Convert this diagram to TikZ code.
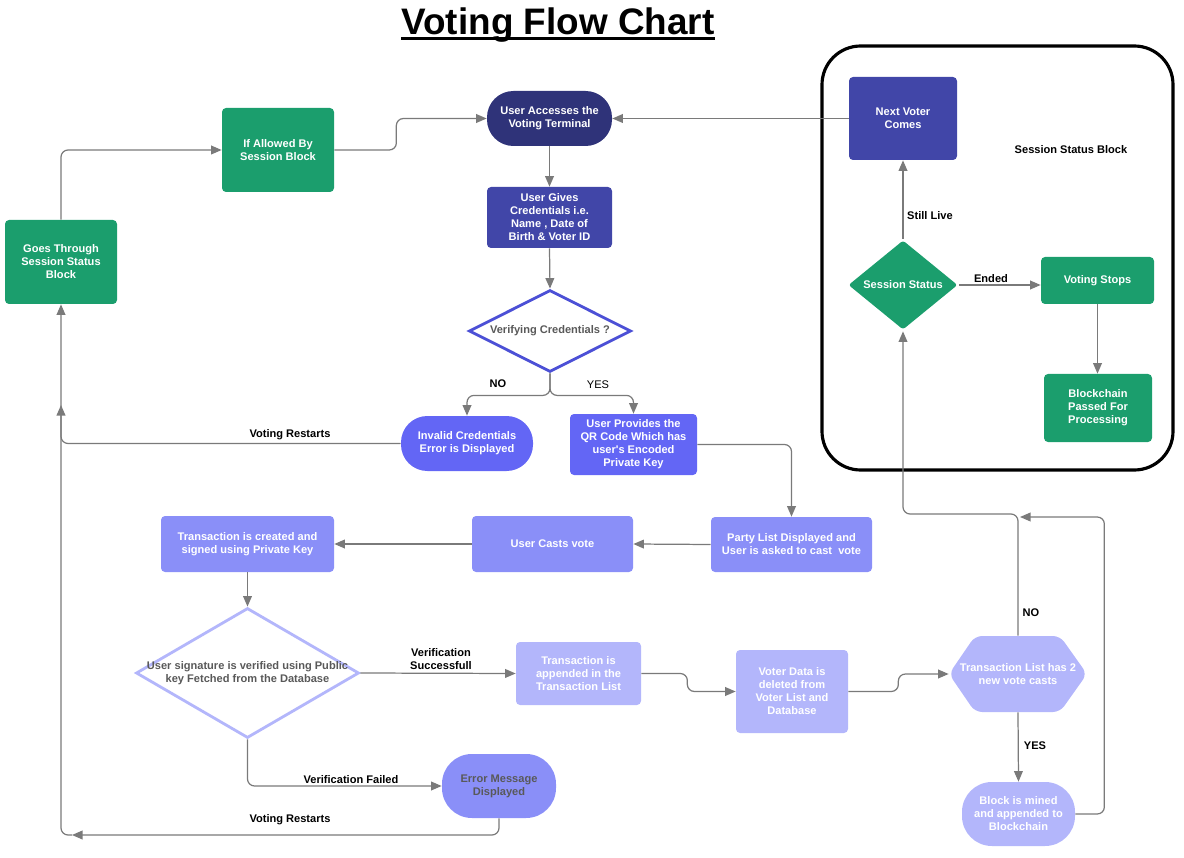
\documentclass[tikz,border=0pt]{standalone}
\usepackage{fontspec}
\setmainfont{Liberation Sans}
\usetikzlibrary{arrows.meta,shapes.geometric}
\definecolor{navy}{HTML}{2F3379}
\definecolor{indigo}{HTML}{4146A8}
\definecolor{vivid}{HTML}{6366F5}
\definecolor{peri}{HTML}{8A8FF8}
\definecolor{lav}{HTML}{B3B6FB}
\definecolor{edge}{HTML}{4C50D6}
\definecolor{green}{HTML}{1B9E6D}
\definecolor{linegray}{HTML}{7A7A7A}
\definecolor{txtgray}{HTML}{595959}
\begin{document}
\begin{tikzpicture}[x=0.02cm, y=-0.02cm]
		\tikzset{sz/.style 2 args = {minimum width=#1*0.02cm, minimum height=#2*0.02cm},
			box/.style = {rectangle, rounded corners=2.3pt, inner sep=1pt, align=center, text=white,
				font=\fontsize{6.3}{7.4}\selectfont\bfseries},
			pill/.style = {box, rounded corners=15pt},
			dia/.style = {diamond, inner sep=0pt, line width=1.6pt, fill=white},
			dtext/.style = {align=center, inner sep=0pt, text=txtgray, font=\fontsize{6.3}{7.4}\selectfont\bfseries},
			lbl/.style = {align=center, inner sep=0pt, font=\fontsize{6.3}{7.4}\selectfont\bfseries},
			conn/.style = {draw=linegray, line width=0.7pt, rounded corners=4pt,
				-{Triangle[length=6pt, width=5pt]}}}
		\useasboundingbox (0,0) rectangle (1184,858);
		% Title
		\node[inner sep=0pt, font=\fontsize{21}{25}\selectfont\bfseries] (title) at (558,25) {Voting Flow Chart};
		\draw[line width=1.6pt] ([yshift=-2.5pt]title.base west) -- ([yshift=-2.5pt]title.base east);
		% Session status block
		\node[draw, line width=1.8pt, rounded corners=22pt, sz={351}{424}] (sessframe) at (997.5,258) {};
		\node[lbl] (sessname) at (1071,150) {Session Status Block};
		\node[box, fill=indigo, sz={108}{83}] (nextvoter) at (903,118.5) {Next Voter\\Comes};
		\node[dia, fill=green, draw=none, rounded corners=1.5pt, sz={110}{90},
			label={[dtext, text=white]center:Session Status}] (sessstatus) at (903,285) {};
		\node[box, fill=green, sz={113}{47}] (votingstops) at (1097.5,280.5) {Voting Stops};
		\node[box, fill=green, sz={108}{68}] (blockchain) at (1098,408) {Blockchain\\Passed For\\Processing};
		% Main flow
		\node[pill, fill=navy, sz={125}{55}] (useraccess) at (549.5,118.5) {User Accesses the\\Voting Terminal};
		\node[box, fill=indigo, sz={125}{61}] (usergives) at (549.5,217.5) {User Gives\\Credentials i.e.\\Name , Date of\\Birth \& Voter ID};
		\node[dia, draw=edge, sz={162}{82},
			label={[dtext]center:Verifying Credentials ?}] (verifying) at (550,331) {};
		\node[pill, fill=vivid, sz={132}{55}] (invalid) at (467,443.5) {Invalid Credentials\\Error is Displayed};
		\node[box, fill=vivid, sz={127}{61}] (qrcode) at (633.5,444.5) {User Provides the\\QR Code Which has\\user\textquotesingle s Encoded\\Private Key};
		\node[box, fill=green, sz={112}{84}] (allowed) at (278,150) {If Allowed By\\Session Block};
		\node[box, fill=green, sz={112}{84}] (goesthrough) at (61,262) {Goes Through\\Session Status\\Block};
		\node[box, fill=peri, sz={161}{55}] (partylist) at (791.5,544.5) {Party List Displayed and\\User is asked to cast\ \ vote};
		\node[box, fill=peri, sz={161}{56}] (castsvote) at (552.5,544) {User Casts vote};
		\node[box, fill=peri, sz={173}{56}] (txcreated) at (247.5,544) {Transaction is created and\\signed using Private Key};
		\node[dia, draw=lav, sz={223}{130},
			label={[dtext]center:User signature is verified using Public\\key Fetched from the Database}] (sigverify) at (247.5,673) {};
		\node[box, fill=lav, sz={125}{63}] (txappended) at (578.5,673.5) {Transaction is\\appended in the\\Transaction List};
		\node[box, fill=lav, sz={112}{83}] (voterdata) at (792,691.5) {Voter Data is\\deleted from\\Voter List and\\Database};
		\fill[lav, rounded corners=4pt] (949,674) -- (975,636) -- (1060,636) -- (1087,674) -- (1060,712) -- (975,712) -- cycle;
		\node[box, sz={138}{76}] (txlist) at (1018,674) {Transaction List has 2\\new vote casts};
		\node[box, fill=lav, rounded corners=17pt, sz={113}{64}] (blockmined) at (1018.5,814) {Block is mined\\and appended to\\Blockchain};
		\node[box, fill=peri, text=txtgray, rounded corners=17pt, sz={114}{64}] (errormsg) at (499,786) {Error Message\\Displayed};
		% Free ends
		\coordinate (noturn) at (1018,514);
		\coordinate (yesback) at (1020,517);
		\coordinate (restartbot) at (72,835);
		\coordinate (restartup) at (61,405);
		% Connectors
		\draw[conn] (useraccess.south) -- (usergives.north);
		\draw[conn] (usergives.south) -- (verifying.north);
		\draw[conn] (verifying.south) -- ++(0,22) -| (invalid.north);
		\draw[conn] (verifying.south) -- ++(0,22) -| (qrcode.north);
		\draw[conn] (invalid.west) -| (goesthrough.south);
		\draw[conn] (goesthrough.north) |- (allowed.west);
		\draw[conn] (allowed.east) -- ++(62,0) |- (useraccess.west);
		\draw[conn] (nextvoter.west) -- (useraccess.east);
		\draw[conn] (sessstatus.north) -- (nextvoter.south);
		\draw[conn] (sessstatus.east) -- (sessstatus.east -| votingstops.west);
		\draw[conn] (votingstops.south) -- (votingstops.south |- blockchain.north);
		\draw[conn] (qrcode.east) -| (partylist.north);
		\draw[conn] (partylist.west) -- (castsvote.east);
		\draw[conn] (castsvote.west) -- (txcreated.east);
		\draw[conn] (txcreated.south) -- (sigverify.north);
		\draw[conn] (sigverify.east) -- (txappended.west);
		\draw[conn] (sigverify.south) |- (errormsg.west);
		\draw[conn] (txappended.east) -- ++(46,0) |- (voterdata.west);
		\draw[conn] (voterdata.east) -- ++(50,0) |- (txlist.west);
		\draw[conn] (txlist.north) -- (noturn) -| (sessstatus.south);
		\draw[conn] (txlist.south) -- (blockmined.north);
		\draw[conn] (blockmined.east) -- ++(29,0) |- (yesback);
		\draw[conn] (errormsg.south) |- (restartbot);
		\draw[conn] (restartbot) -| (restartup);
		% Connector labels
		\node[lbl] (no1) at (498,384) {NO};
		\node[lbl, font=\fontsize{6.3}{7.4}\selectfont] (yes1) at (598,385) {YES};
		\node[lbl] (restart1) at (290,435) {Voting Restarts};
		\node[lbl] (restart2) at (290,820) {Voting Restarts};
		\node[lbl] (stilllive) at (930,216) {Still Live};
		\node[lbl] (ended) at (991,279) {Ended};
		\node[lbl] (vsuccess) at (441,659) {Verification\\Successfull};
		\node[lbl] (vfailed) at (351,780) {Verification Failed};
		\node[lbl] (no2) at (1031,613) {NO};
		\node[lbl] (yes2) at (1035,746) {YES};
	\end{tikzpicture}
\end{document}
